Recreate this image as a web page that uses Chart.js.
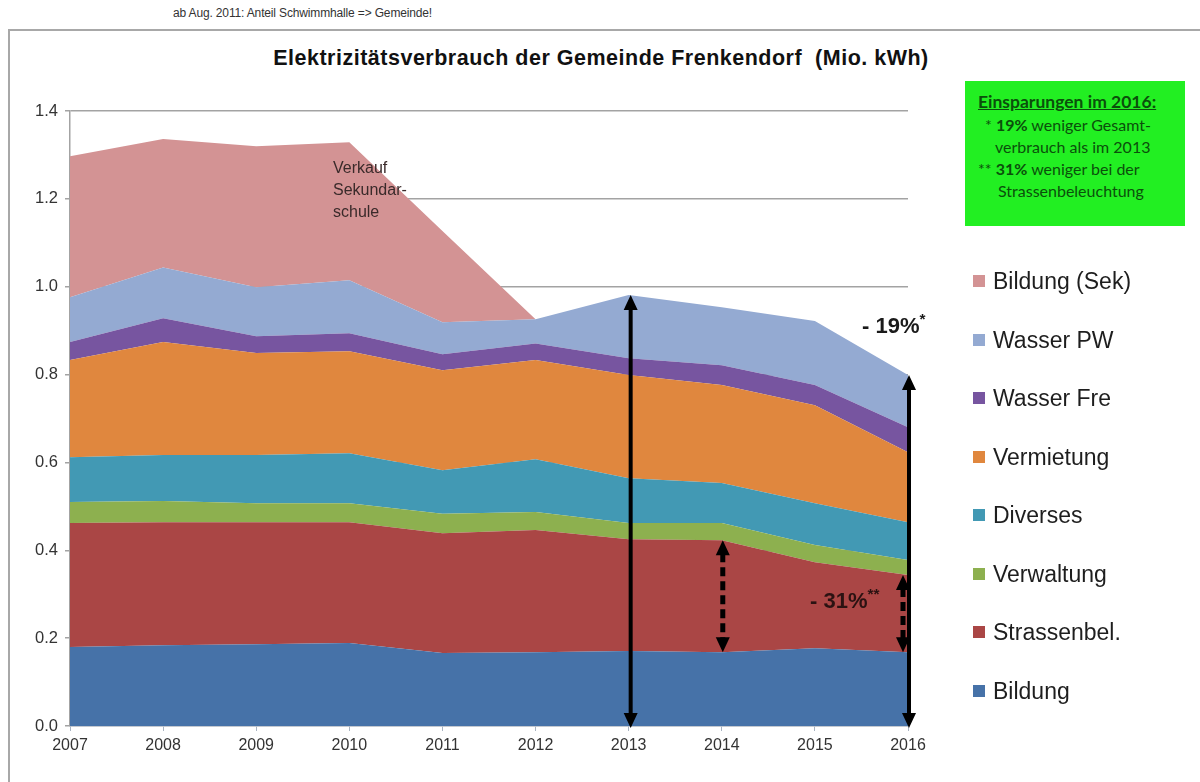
<!DOCTYPE html>
<html>
<head>
<meta charset="utf-8">
<script src="https://cdn.jsdelivr.net/npm/chart.js@4.4.1/dist/chart.umd.min.js"></script>
<style>
  html, body { margin: 0; padding: 0; background: #fff; }
  body { width: 1200px; height: 782px; position: relative; overflow: hidden;
         font-family: 'Liberation Sans', Arial, sans-serif; }
  .frame { position: absolute; left: 8px; top: 29px; width: 1300px; height: 900px;
           border-left: 2px solid #a8a8a8; border-top: 2px solid #a8a8a8; }
  .note { position: absolute; left: 173px; top: 6px; font-size: 12px; color: #333; letter-spacing: -0.15px; }
  .title { position: absolute; left: 0; width: 1202px; top: 46px; text-align: center;
           font-weight: bold; font-size: 21.5px; letter-spacing: 0.5px; color: #111; }
  #wrap { position: absolute; left: 0; top: 0; width: 1200px; height: 782px; }
  .sek { position: absolute; left: 333px; top: 157px; font-size: 16px; line-height: 22px; color: #3a2a2a; }
  .pct { position: absolute; font-weight: bold; color: #1a1a1a; }
  .pct sup { font-size: 0.7em; vertical-align: 0.6em; }
  .savings { position: absolute; left: 965px; top: 81px; width: 220px; height: 145px;
             background: #22ef22; font-family: Lato, 'Open Sans', sans-serif; font-size: 16px;
             line-height: 22px; color: #0b4f0b; }
  .savings div { position: absolute; white-space: nowrap; }
  .legend { position: absolute; left: 973px; font-size: 23px; color: #1e1e1e; white-space: nowrap; }
  .legend i { position: absolute; left: 0; top: 7px; width: 12px; height: 12px; }
  .legend span { position: absolute; left: 20px; top: 0; line-height: 26px; }
</style>
</head>
<body>
<div class="frame"></div>
<div class="note">ab Aug. 2011: Anteil Schwimmhalle =&gt; Gemeinde!</div>
<div class="title">Elektrizitätsverbrauch der Gemeinde Frenkendorf&nbsp; (Mio. kWh)</div>
<div id="wrap"><canvas id="chart"></canvas></div>
<div class="sek">Verkauf<br>Sekundar-<br>schule</div>
<div class="pct" style="left:862px; top:310px; font-size:22px;">- 19%<sup>*</sup></div>
<div class="pct" style="left:810px; top:585px; font-size:22px; color:#2b1212;">- 31%<sup>**</sup></div>
<div class="savings">
  <div style="left:13px; top:10px; font-weight:bold; font-size:17.5px; text-decoration:underline;">Einsparungen im 2016:</div>
  <div style="left:20px; top:33px;">* <b>19%</b> weniger Gesamt-</div>
  <div style="left:30px; top:55px;">verbrauch als im 2013</div>
  <div style="left:13px; top:77px;">** <b>31%</b> weniger bei der</div>
  <div style="left:33px; top:99px;">Strassenbeleuchtung</div>
</div>
<div id="legend"></div>

<script>
// ── Data (Mio. kWh) ──────────────────────
const years       = ['2007','2008','2009','2010','2011','2012','2013','2014','2015','2016'];
const bildung     = [0.180, 0.184, 0.186, 0.189, 0.166, 0.168, 0.171, 0.168, 0.177, 0.168];
const strassenbel = [0.282, 0.280, 0.278, 0.275, 0.273, 0.278, 0.254, 0.255, 0.196, 0.176];
const verwaltung  = [0.048, 0.048, 0.043, 0.043, 0.044, 0.041, 0.037, 0.039, 0.039, 0.034];
const diverses    = [0.102, 0.105, 0.110, 0.114, 0.099, 0.120, 0.102, 0.091, 0.095, 0.086];
const vermietung  = [0.221, 0.257, 0.232, 0.232, 0.228, 0.226, 0.235, 0.223, 0.223, 0.159];
const wasserFre   = [0.041, 0.054, 0.038, 0.041, 0.036, 0.038, 0.038, 0.045, 0.046, 0.057];
const wasserPW    = [0.102, 0.116, 0.112, 0.121, 0.073, 0.055, 0.144, 0.132, 0.146, 0.119];
const bildungSek  = [0.321, 0.292, 0.321, 0.314, 0.208, 0, 0, 0, 0, 0];
const yTicks      = [0, 0.2, 0.4, 0.6, 0.8, 1.0, 1.2, 1.4];

// bottom -> top
const series = [
    { label: 'Bildung',       data: bildung,     color: '#4672a8' },
    { label: 'Strassenbel.',  data: strassenbel, color: '#aa4645' },
    { label: 'Verwaltung',    data: verwaltung,  color: '#8db04f' },
    { label: 'Diverses',      data: diverses,    color: '#4299b4' },
    { label: 'Vermietung',    data: vermietung,  color: '#e0873e' },
    { label: 'Wasser Fre',    data: wasserFre,   color: '#7755a0' },
    { label: 'Wasser PW',     data: wasserPW,    color: '#94aad2' },
    { label: 'Bildung (Sek)', data: bildungSek,  color: '#d39394' },
];

const totalAt = i => series.reduce((s, d) => s + d.data[i], 0);

// ── Arrows ───────────────────────────────
function drawArrow(ctx, x, yTop, yBot, dashed) {
    const head = 15, half = 7;
    ctx.save();
    ctx.strokeStyle = '#000';
    ctx.fillStyle = '#000';
    ctx.lineWidth = dashed ? 5 : 4;
    if (dashed) ctx.setLineDash([9, 5]);
    ctx.beginPath();
    ctx.moveTo(x, yTop + head - 2);
    ctx.lineTo(x, yBot - head + 2);
    ctx.stroke();
    ctx.setLineDash([]);
    ctx.beginPath();
    ctx.moveTo(x, yTop); ctx.lineTo(x - half, yTop + head); ctx.lineTo(x + half, yTop + head);
    ctx.closePath(); ctx.fill();
    ctx.beginPath();
    ctx.moveTo(x, yBot); ctx.lineTo(x - half, yBot - head); ctx.lineTo(x + half, yBot - head);
    ctx.closePath(); ctx.fill();
    ctx.restore();
}

const arrowPlugin = {
    id: 'arrows',
    afterDatasetsDraw(chart) {
        const { ctx, scales: { x, y } } = chart;
        const i13 = years.indexOf('2013'), i14 = years.indexOf('2014'), i16 = years.indexOf('2016');
        // street lighting band (dashed)
        drawArrow(ctx, x.getPixelForValue(i14) + 1,
            y.getPixelForValue(bildung[i14] + strassenbel[i14]), y.getPixelForValue(bildung[i14]), true);
        drawArrow(ctx, x.getPixelForValue(i16) - 5,
            y.getPixelForValue(bildung[i16] + strassenbel[i16]), y.getPixelForValue(bildung[i16]), true);
        // total (solid)
        drawArrow(ctx, x.getPixelForValue(i13) + 2, y.getPixelForValue(totalAt(i13)), y.getPixelForValue(0) + 2, false);
        drawArrow(ctx, x.getPixelForValue(i16) + 1, y.getPixelForValue(totalAt(i16)), y.getPixelForValue(0) + 2, false);
    }
};

// ── Chart ────────────────────────────────
Chart.defaults.font.family = "'Liberation Sans', Arial, sans-serif";

new Chart(document.getElementById('chart'), {
    type: 'line',
    data: {
        labels: years,
        datasets: series.map((s, k) => ({
            label: s.label,
            data: s.data,
            backgroundColor: s.color,
            borderColor: s.color,
            borderWidth: 0,
            pointRadius: 0,
            tension: 0,
            fill: k === 0 ? 'origin' : '-1',
        }))
    },
    options: {
        responsive: true,
        maintainAspectRatio: false,
        animation: false,
        layout: { padding: { top: 111, left: 8, right: 292, bottom: 16 } },
        plugins: { legend: { display: false }, tooltip: { enabled: false } },
        scales: {
            x: {
                offset: false,
                grid: { drawOnChartArea: false, drawTicks: true, tickLength: 5, color: '#a9b4c2' },
                border: { display: true, color: '#b8c2d0', width: 1.5 },
                ticks: { padding: 5, color: '#333', font: { size: 16 }, maxRotation: 0 },
                afterFit: s => { s.height = 40; }
            },
            y: {
                stacked: true,
                min: 0, max: 1.4,
                afterBuildTicks: s => { s.ticks = yTicks.map(v => ({ value: v })); },
                grid: { color: '#a3a3a3', lineWidth: 1.5, tickLength: 5, tickColor: '#a3a3a3' },
                border: { display: true, color: '#a3a3a3', width: 1.5 },
                ticks: { padding: 7, color: '#333', font: { size: 16.5 }, callback: v => Number(v).toFixed(1) },
                afterFit: s => { s.width = 62; }
            }
        }
    },
    plugins: [arrowPlugin]
});

// ── Legend (top series first) ────────────
const legendEl = document.getElementById('legend');
series.slice().reverse().forEach((s, k) => {
    const row = document.createElement('div');
    row.className = 'legend';
    row.style.top = (268 + k * 58.5) + 'px';
    row.innerHTML = `<i style="background:${s.color}"></i><span>${s.label}</span>`;
    legendEl.appendChild(row);
});
</script>
</body>
</html>
